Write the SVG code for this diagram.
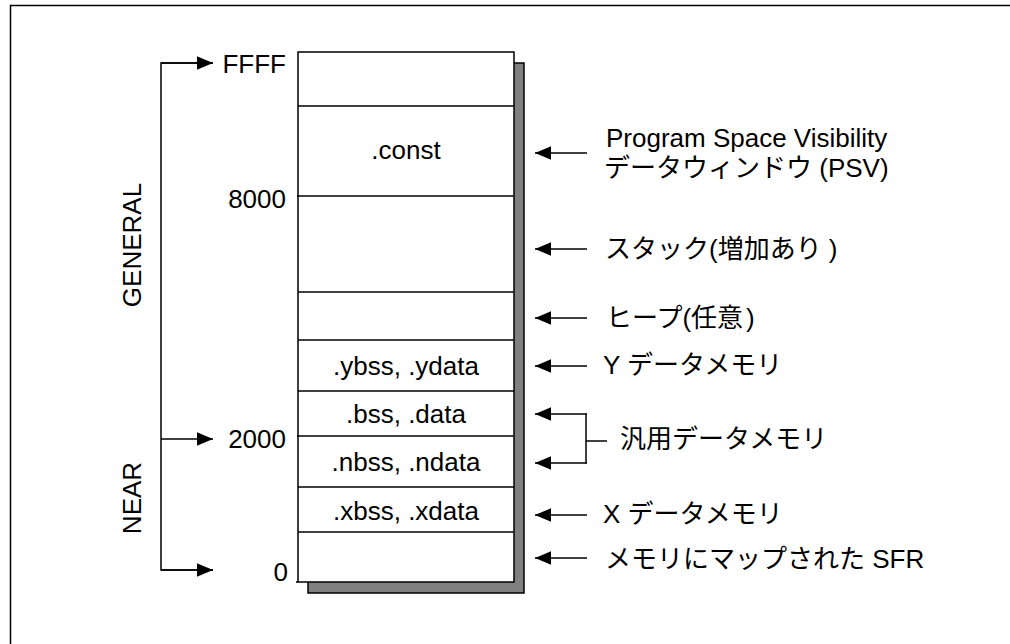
<svg xmlns="http://www.w3.org/2000/svg" width="1010" height="644" viewBox="0 0 1010 644">
<defs>
<marker id="ah" markerUnits="userSpaceOnUse" markerWidth="16" markerHeight="14" viewBox="0 0 14 12" refX="14" refY="6" orient="auto">
<path d="M0,0 L14,6 L0,12 Z" fill="#000"/>
</marker>
</defs>
<style>
.t{font-family:"Liberation Sans",Arial,"Noto Sans CJK JP",sans-serif;font-size:26px;fill:#000}
.ln{stroke:#000;stroke-width:1.5;fill:none}
.row{fill:#fff;stroke:#000;stroke-width:1.5}
</style>
<rect x="0" y="0" width="1010" height="644" fill="#fff"/>
<path d="M1012,5.5 H10.5 V648" fill="none" stroke="#000" stroke-width="1.5"/>
<g id="memory">
<rect x="308" y="63" width="216" height="530" fill="#808080" stroke="#000" stroke-width="1.5"/>
<rect class="row" x="298" y="52" width="216" height="530"/>
<line class="ln" x1="298" y1="106" x2="514" y2="106"/>
<line class="ln" x1="297" y1="196" x2="514" y2="196"/>
<line class="ln" x1="298" y1="292" x2="514" y2="292"/>
<line class="ln" x1="298" y1="340" x2="514" y2="340"/>
<line class="ln" x1="298" y1="391" x2="514" y2="391"/>
<line class="ln" x1="297" y1="436" x2="514" y2="436"/>
<line class="ln" x1="298" y1="487" x2="514" y2="487"/>
<line class="ln" x1="298" y1="532" x2="514" y2="532"/>
<line class="ln" x1="296" y1="582" x2="298" y2="582"/>
<text class="t" x="406" y="159" text-anchor="middle">.const</text>
<text class="t" x="406" y="375" text-anchor="middle">.ybss, .ydata</text>
<text class="t" x="406" y="423" text-anchor="middle">.bss, .data</text>
<text class="t" x="406" y="471" text-anchor="middle">.nbss, .ndata</text>
<text class="t" x="406" y="520" text-anchor="middle">.xbss, .xdata</text>
</g>
<g id="addresses">
<text class="t" x="286" y="73" text-anchor="end">FFFF</text>
<text class="t" x="286" y="208" text-anchor="end">8000</text>
<text class="t" x="286" y="448" text-anchor="end">2000</text>
<text class="t" x="288" y="581" text-anchor="end">0</text>
</g>
<g id="ranges">
<text class="t" transform="translate(141,245) rotate(-90)" text-anchor="middle">GENERAL</text>
<text class="t" transform="translate(141,498) rotate(-90)" text-anchor="middle">NEAR</text>
</g>
<g id="labels">
<text class="t" x="606" y="147">Program Space Visibility</text>
<text class="t" x="604" y="177">データウィンドウ (PSV)</text>
<text class="t" x="605" y="258">スタック(増加あり<tspan dx="7">)</tspan></text>
<text class="t" x="606" y="327">ヒープ(任意<tspan dx="3">)</tspan></text>
<text class="t" x="603" y="374">Y データメモリ</text>
<text class="t" x="620" y="448">汎用データメモリ</text>
<text class="t" x="603" y="523">X データメモリ</text>
<text class="t" x="605" y="568">メモリにマップされた SFR</text>
</g>
<g id="connectors">
<path class="ln" d="M213,63 H161 V570 H213"/>
<line class="ln" x1="161" y1="63" x2="213" y2="63" marker-end="url(#ah)"/>
<line class="ln" x1="161" y1="439" x2="213" y2="439" marker-end="url(#ah)"/>
<line class="ln" x1="161" y1="570" x2="213" y2="570" marker-end="url(#ah)"/>
<line class="ln" x1="587" y1="153" x2="535" y2="153" marker-end="url(#ah)"/>
<line class="ln" x1="587" y1="249" x2="535" y2="249" marker-end="url(#ah)"/>
<line class="ln" x1="587" y1="318" x2="535" y2="318" marker-end="url(#ah)"/>
<line class="ln" x1="587" y1="366" x2="535" y2="366" marker-end="url(#ah)"/>
<line class="ln" x1="587" y1="414" x2="535" y2="414" marker-end="url(#ah)"/>
<line class="ln" x1="587" y1="463" x2="535" y2="463" marker-end="url(#ah)"/>
<line class="ln" x1="586" y1="413.5" x2="586" y2="463.5"/>
<line class="ln" x1="586" y1="441" x2="607" y2="441"/>
<line class="ln" x1="587" y1="515" x2="535" y2="515" marker-end="url(#ah)"/>
<line class="ln" x1="587" y1="558" x2="535" y2="558" marker-end="url(#ah)"/>
</g>
</svg>
